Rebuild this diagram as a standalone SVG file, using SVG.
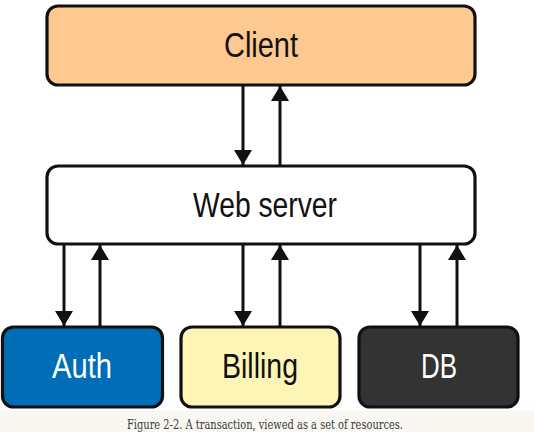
<svg xmlns="http://www.w3.org/2000/svg" width="534" height="432" viewBox="0 0 534 432">
<style>
.box{stroke:#111;stroke-width:3.2}
.lbl{font-family:"Liberation Sans",Arial,sans-serif;font-size:35px;text-anchor:middle}
.cap{font-family:"DejaVu Serif","Liberation Serif",serif;font-size:12.5px;fill:#3a3a3a;text-anchor:middle}
.conn line{stroke:#111;stroke-width:3}
</style>
<defs>
<marker id="ah" markerWidth="15" markerHeight="18" refX="15" refY="9" viewBox="0 0 15 18" orient="auto" markerUnits="userSpaceOnUse">
<path d="M0,0 L15,9 L0,18 Z" fill="#111"/>
</marker>
</defs>
<rect x="0" y="0" width="534" height="432" fill="#ffffff"/>
<rect x="0" y="411" width="534" height="21" fill="#f9f7f2"/>
<g id="client">
<rect class="box" x="47" y="6" width="428" height="79" rx="11" fill="#fec891"/>
<text class="lbl" x="261" y="57" textLength="74" lengthAdjust="spacingAndGlyphs" fill="#111">Client</text>
</g>
<g id="webserver">
<rect class="box" x="47" y="166" width="428" height="78" rx="11" fill="#ffffff"/>
<text class="lbl" x="265" y="217" textLength="144" lengthAdjust="spacingAndGlyphs" fill="#111">Web server</text>
</g>
<g id="auth">
<rect class="box" x="2.5" y="327" width="160" height="80" rx="11" fill="#006db6"/>
<text class="lbl" x="82" y="378" textLength="60" lengthAdjust="spacingAndGlyphs" fill="#ffffff">Auth</text>
</g>
<g id="billing">
<rect class="box" x="181" y="327" width="159" height="80" rx="11" fill="#fdf5b5"/>
<text class="lbl" x="260" y="378" textLength="76" lengthAdjust="spacingAndGlyphs" fill="#111">Billing</text>
</g>
<g id="db">
<rect class="box" x="359" y="327" width="159" height="80" rx="11" fill="#333333"/>
<text class="lbl" x="439" y="378" textLength="36" lengthAdjust="spacingAndGlyphs" fill="#ffffff">DB</text>
</g>
<g id="connectors" class="conn">
<line x1="243" y1="85" x2="243" y2="165" marker-end="url(#ah)"/>
<line x1="280" y1="165" x2="280" y2="86" marker-end="url(#ah)"/>
<line x1="64" y1="244" x2="64" y2="326" marker-end="url(#ah)"/>
<line x1="100" y1="326" x2="100" y2="245" marker-end="url(#ah)"/>
<line x1="243" y1="244" x2="243" y2="326" marker-end="url(#ah)"/>
<line x1="280" y1="326" x2="280" y2="245" marker-end="url(#ah)"/>
<line x1="420" y1="244" x2="420" y2="326" marker-end="url(#ah)"/>
<line x1="457" y1="326" x2="457" y2="245" marker-end="url(#ah)"/>
</g>
<text class="cap" x="265" y="429" textLength="276" lengthAdjust="spacingAndGlyphs">Figure 2-2. A transaction, viewed as a set of resources.</text>
</svg>
